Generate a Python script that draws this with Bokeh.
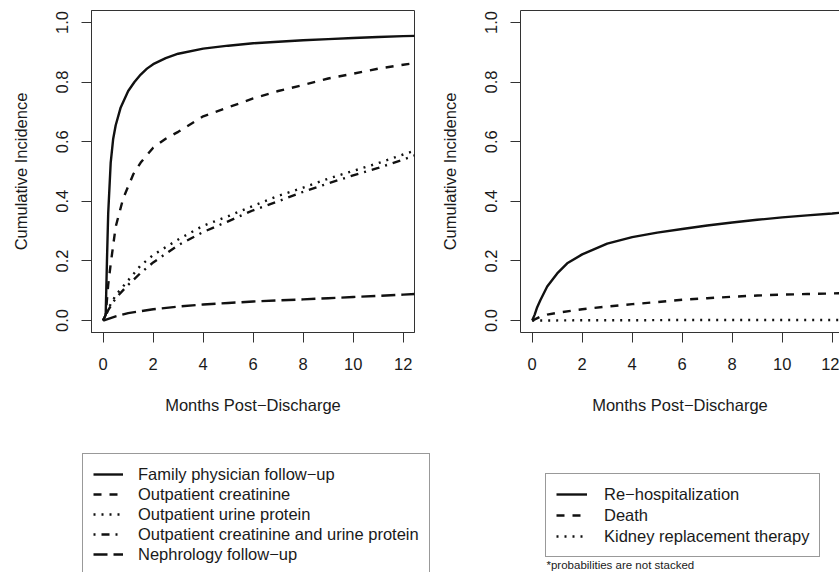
from bokeh.plotting import figure
from bokeh.models import Legend, LegendItem, Label, FixedTicker, Range1d, PrintfTickFormatter, LinearAxis
from bokeh.layouts import row, column
from bokeh.embed import file_html
from bokeh.resources import INLINE

# ---------------- data (months post-discharge, cumulative incidence) ----------------
x_ticks = [0, 2, 4, 6, 8, 10, 12]
y_ticks = [0.0, 0.2, 0.4, 0.6, 0.8, 1.0]

fam_x = [0, 0.1, 0.15, 0.2, 0.3, 0.4, 0.5, 0.7, 1.0, 1.25, 1.5, 1.75, 2.0, 2.5, 3.0, 4.0, 5.0, 6.0, 7.0, 8.0, 9.0, 10.0, 11.0, 12.0, 12.5]
fam_y = [0, 0.02, 0.2, 0.36, 0.53, 0.61, 0.655, 0.715, 0.77, 0.8, 0.825, 0.845, 0.86, 0.88, 0.895, 0.912, 0.922, 0.93, 0.935, 0.94, 0.944, 0.948, 0.951, 0.954, 0.955]

creat_x = [0, 0.1, 0.2, 0.3, 0.5, 0.8, 1.2, 1.5, 2.0, 2.5, 3.0, 4.0, 5.0, 6.0, 7.0, 8.0, 9.0, 10.0, 11.0, 12.0, 12.5]
creat_y = [0, 0.02, 0.12, 0.19, 0.315, 0.41, 0.49, 0.53, 0.58, 0.61, 0.633, 0.685, 0.715, 0.745, 0.77, 0.79, 0.812, 0.828, 0.845, 0.858, 0.864]

urine_x = [0, 0.2, 0.5, 0.7, 1.0, 1.5, 2.0, 3.0, 4.0, 5.0, 6.0, 7.0, 8.0, 9.0, 10.0, 11.0, 12.0, 12.5]
urine_y = [0, 0.04, 0.085, 0.105, 0.135, 0.185, 0.22, 0.272, 0.318, 0.35, 0.385, 0.418, 0.446, 0.476, 0.502, 0.528, 0.557, 0.571]

both_x = [0, 0.2, 0.5, 1.0, 1.5, 2.0, 3.0, 4.0, 5.0, 6.0, 7.0, 8.0, 9.0, 10.0, 11.0, 12.0, 12.5]
both_y = [0, 0.035, 0.075, 0.12, 0.16, 0.195, 0.253, 0.297, 0.333, 0.37, 0.4, 0.432, 0.46, 0.487, 0.512, 0.54, 0.555]

neph_x = [0, 0.5, 1.0, 2.0, 3.0, 4.0, 5.0, 6.0, 7.0, 8.0, 9.0, 10.0, 11.0, 12.0, 12.5]
neph_y = [0, 0.014, 0.025, 0.038, 0.047, 0.054, 0.059, 0.064, 0.068, 0.071, 0.075, 0.079, 0.083, 0.087, 0.089]

rehosp_x = [0, 0.1, 0.2, 0.33, 0.6, 1.0, 1.4, 2.0, 3.0, 4.0, 5.0, 6.0, 7.0, 8.0, 9.0, 10.0, 11.0, 12.0, 12.5]
rehosp_y = [0, 0.02, 0.045, 0.069, 0.114, 0.158, 0.192, 0.222, 0.258, 0.28, 0.295, 0.307, 0.319, 0.329, 0.338, 0.346, 0.353, 0.359, 0.363]

death_x = [0, 0.3, 0.6, 1.0, 2.0, 3.0, 4.0, 5.0, 6.0, 7.0, 8.0, 9.0, 10.0, 11.0, 12.0, 12.5]
death_y = [0, 0.012, 0.02, 0.026, 0.038, 0.047, 0.055, 0.062, 0.07, 0.075, 0.08, 0.084, 0.087, 0.089, 0.091, 0.092]

krt_x = [0, 2.0, 4.0, 6.0, 8.0, 10.0, 12.0, 12.5]
krt_y = [0, 0.001, 0.001, 0.002, 0.002, 0.002, 0.002, 0.002]

left_labels = ["Family physician follow\u2212up", "Outpatient creatinine", "Outpatient urine protein",
               "Outpatient creatinine and urine protein", "Nephrology follow\u2212up"]
right_labels = ["Re\u2212hospitalization", "Death", "Kidney replacement therapy"]

x_title = "Months Post\u2212Discharge"
y_title = "Cumulative Incidence"
footnote = "*probabilities are not stacked"

# ---------------- styling ----------------
FONT = "Liberation Sans"
FS = "16.5px"
INK = "#111111"
FRAME = "#333333"
LW = 2.4
PLOT_H = 440
LEG_H = 132

DASH = {"solid": "solid", "dashed": "8 8", "dotted": "2 6", "dotdash": "2 6 8 6", "longdash": "14 6"}

left_series = [(fam_x, fam_y, "solid"), (creat_x, creat_y, "dashed"), (urine_x, urine_y, "dotted"),
               (both_x, both_y, "dotdash"), (neph_x, neph_y, "longdash")]
right_series = [(rehosp_x, rehosp_y, "solid"), (death_x, death_y, "dashed"), (krt_x, krt_y, "dotted")]


def make_fig(width, border_left, border_right, x_end):
    p = figure(width=width, height=PLOT_H, x_range=Range1d(-0.468, x_end), y_range=Range1d(-0.04, 1.04),
               output_backend="svg", toolbar_location=None,
               min_border_left=border_left, min_border_right=border_right,
               min_border_top=10, min_border_bottom=108)
    p.xgrid.visible = False
    p.ygrid.visible = False
    p.outline_line_color = FRAME
    p.outline_line_width = 1
    p.background_fill_color = "white"
    p.border_fill_color = "white"
    p.xaxis.ticker = FixedTicker(ticks=x_ticks)
    p.yaxis.ticker = FixedTicker(ticks=y_ticks)
    p.yaxis.formatter = PrintfTickFormatter(format="%.1f")
    p.xaxis.axis_label = x_title
    p.yaxis.axis_label = y_title
    for ax in (p.xaxis, p.yaxis):
        ax.axis_line_color = FRAME
        ax.major_tick_line_color = FRAME
        ax.major_tick_out = 10
        ax.major_tick_in = 0
        ax.minor_tick_line_color = None
        ax.major_label_text_font = FONT
        ax.major_label_text_font_size = FS
        ax.major_label_text_color = "#1a1a1a"
        ax.axis_label_text_font = FONT
        ax.axis_label_text_font_size = FS
        ax.axis_label_text_font_style = "normal"
        ax.axis_label_text_color = "#1a1a1a"
    p.yaxis.major_label_orientation = "vertical"
    p.yaxis.major_label_standoff = 13
    p.yaxis.axis_label_standoff = 24
    p.xaxis.major_label_standoff = 15
    p.xaxis.axis_label_standoff = 23
    return p


def curve(p, xs, ys, dash):
    return p.line(xs, ys, line_color=INK, line_width=LW, line_dash=DASH[dash], line_join="round")


def add_legend(q, labels, series, loc, spacing, glyph_w, standoff):
    items = []
    for lab, (xs, ys, st) in zip(labels, series):
        # same series drawn in the legend strip, but outside its visible range (legend key only)
        r = curve(q, xs, ys, st)
        items.append(LegendItem(label=lab, renderers=[r]))
    leg = Legend(items=items, location=loc, margin=0, padding=10, spacing=spacing,
                 glyph_width=glyph_w, glyph_height=20, label_height=20, label_standoff=standoff,
                 label_text_font=FONT, label_text_font_size=FS, label_text_color="#1a1a1a",
                 border_line_color=FRAME, border_line_width=1,
                 background_fill_color="white", background_fill_alpha=1.0)
    q.add_layout(leg)
    return leg


# ---------------- panels ----------------
p1 = make_fig(420, 91, 6, 12.452)
for xs, ys, st in left_series:
    curve(p1, xs, ys, st)

p2 = make_fig(419, 100, 0, 12.292)
for xs, ys, st in right_series:
    curve(p2, xs, ys, st)
# the right panel's box runs past the picture's right edge: draw top edge only
p2.outline_line_color = None
top_edge = LinearAxis(ticker=FixedTicker(ticks=[]), axis_line_color=FRAME, major_tick_out=0,
                      major_tick_in=0, minor_tick_line_color=None, major_label_standoff=0,
                      major_label_text_font_size="1px")
p2.add_layout(top_edge, "above")

# ---------------- legend strip ----------------
lf = figure(width=839, height=LEG_H, x_range=Range1d(100, 101), y_range=Range1d(100, 101),
            output_backend="svg", toolbar_location=None,
            x_axis_type=None, y_axis_type=None, min_border=0)
lf.xgrid.visible = False
lf.ygrid.visible = False
lf.outline_line_color = None
lf.background_fill_color = "white"
lf.border_fill_color = "white"

add_legend(lf, left_labels, left_series, (82, -3), 0, 30, 15)
add_legend(lf, right_labels, right_series, (545, 15), 1, 31, 17)
note = Label(x=546, y=8, x_units="screen", y_units="screen", text=footnote,
             text_font=FONT, text_font_size="11.5px", text_color="#1a1a1a",
             text_align="left", text_baseline="alphabetic")
lf.add_layout(note)

layout = column(row(p1, p2), lf)

open("out.html", "w").write(file_html(layout, INLINE))
